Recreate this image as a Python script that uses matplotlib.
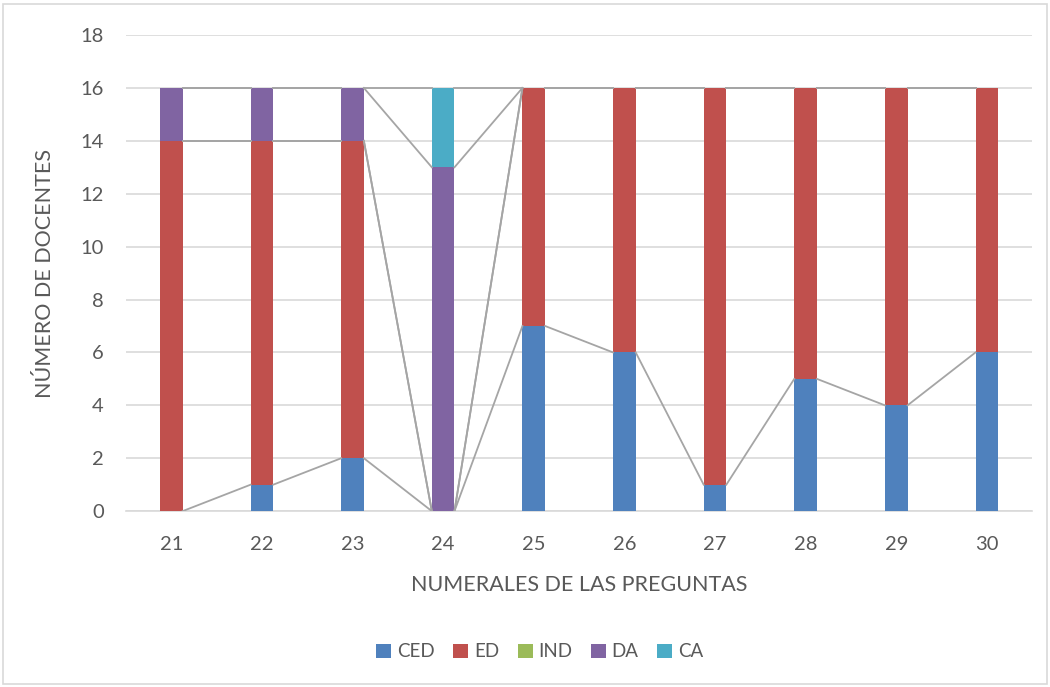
import matplotlib.pyplot as plt
import numpy as np
from matplotlib.patches import Rectangle

plt.rcParams['font.family'] = ['Lato', 'DejaVu Sans']

preguntas = ['21', '22', '23', '24', '25', '26', '27', '28', '29', '30']
series = ['CED', 'ED', 'IND', 'DA', 'CA']
ced = [0, 1, 2, 0, 7, 6, 1, 5, 4, 6]
ed = [14, 13, 12, 0, 9, 10, 15, 11, 12, 10]
ind = [0, 0, 0, 0, 0, 0, 0, 0, 0, 0]
da = [2, 2, 2, 13, 0, 0, 0, 0, 0, 0]
ca = [0, 0, 0, 3, 0, 0, 0, 0, 0, 0]
colores = ['#4f81bd', '#c0504d', '#9bbb59', '#8064a2', '#4bacc6']

txt = '#595959'
fig = plt.figure(figsize=(10.5, 6.87), dpi=100)
fig.patches.append(Rectangle((0.003, 0.004), 0.994, 0.99, transform=fig.transFigure,
                             fill=False, edgecolor='#d9d9d9', linewidth=1.2))
ax = fig.add_axes([0.12, 0.256, 0.863, 0.693])

x = np.arange(len(preguntas))
w = 0.25
base = np.zeros(len(preguntas))
niveles = []
for nombre, vals, col in zip(series, [ced, ed, ind, da, ca], colores):
    vals = np.array(vals, dtype=float)
    ax.bar(x, vals, w, bottom=base, color=col, label=nombre, zorder=3)
    base = base + vals
    niveles.append(base.copy())

# lineas de serie entre barras
for nivel in niveles:
    for i in range(len(x) - 1):
        ax.plot([x[i] + w / 2, x[i + 1] - w / 2], [nivel[i], nivel[i + 1]],
                color='#a5a5a5', linewidth=1.3, zorder=4)

ax.set_xlim(-0.5, len(x) - 0.5)
ax.set_ylim(0, 18)
ax.set_yticks(range(0, 19, 2))
ax.set_xticks(x)
ax.set_xticklabels(preguntas)
ax.grid(axis='y', color='#d9d9d9', linewidth=1.2, zorder=0)
for s in ['top', 'right', 'left']:
    ax.spines[s].set_visible(False)
ax.spines['bottom'].set_color('#d9d9d9')
ax.spines['bottom'].set_linewidth(1.2)
ax.tick_params(axis='y', length=0, labelsize=14.5, colors=txt, pad=16)
ax.tick_params(axis='x', length=0, labelsize=14.5, colors=txt, pad=18)
ax.set_xlabel('NUMERALES DE LAS PREGUNTAS', fontsize=15.5, color=txt, labelpad=16)
ax.set_ylabel('NÚMERO DE DOCENTES', fontsize=15.5, color=txt, labelpad=18)

fig.legend(loc='center', bbox_to_anchor=(0.514, 0.051), ncol=5, frameon=False,
           fontsize=13.5, labelcolor=txt, handlelength=0.8, handleheight=0.8,
           handletextpad=0.3, columnspacing=1.0)

fig.savefig('out.png', dpi=100)
